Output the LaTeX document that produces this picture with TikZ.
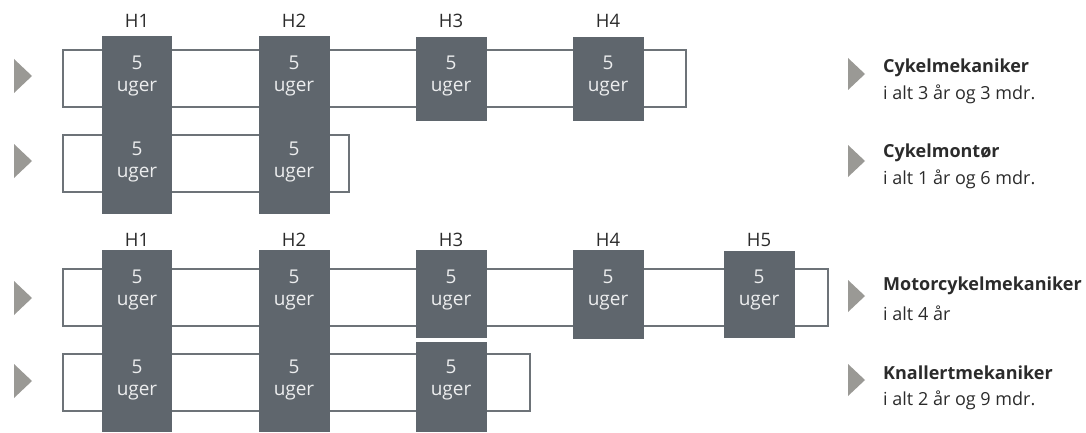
\documentclass[tikz,border=0pt]{standalone}
\usepackage{fontspec}
\setmainfont{Open Sans}
\definecolor{boxgray}{HTML}{5F666D}
\definecolor{linegray}{HTML}{6D7378}
\definecolor{trigray}{HTML}{9A9995}
\definecolor{txtdark}{HTML}{2B2B2B}
\definecolor{boxtxt}{HTML}{ECEDEE}
\begin{document}
\begin{tikzpicture}[x=1pt,y=-1pt,
  rowbox/.style={draw=linegray,line width=2pt},
  dark/.style={fill=boxgray},
  tri/.style={fill=trigray},
  wk/.style={text=boxtxt,font=\fontsize{19}{22}\selectfont,inner sep=0pt,align=center},
  hlab/.style={text=txtdark,font=\fontsize{18.5}{22}\selectfont,inner sep=0pt},
  ttl/.style={text=txtdark,font=\fontsize{18}{21}\selectfont\bfseries,inner sep=0pt,anchor=west},
  sub/.style={text=txtdark,font=\fontsize{18}{21}\selectfont,inner sep=0pt,anchor=west}]
\path[use as bounding box] (0,0) rectangle (1086,433);
% row outlines
\draw[rowbox] (63,50) rectangle (686,107);
\draw[rowbox] (63,135) rectangle (349,192);
\draw[rowbox] (63,269) rectangle (828,326);
\draw[rowbox] (63,354) rectangle (530,411);
% dark columns, top
\fill[dark] (102,36) rectangle (172,214);
\fill[dark] (259,36) rectangle (330,214);
\fill[dark] (416,37) rectangle (487,121);
\fill[dark] (573,37) rectangle (644,121);
% dark columns, bottom
\fill[dark] (102,250) rectangle (172,432);
\fill[dark] (259,250) rectangle (330,432);
\fill[dark] (416,250) rectangle (487,338);
\fill[dark] (416,342) rectangle (487,432);
\fill[dark] (573,250) rectangle (644,339);
\fill[dark] (724,251) rectangle (795,338);
% labels
\node[hlab] (h1a) at (137,21) {H1};
\node[hlab] (h2a) at (294,21) {H2};
\node[hlab] (h3a) at (451,21) {H3};
\node[hlab] (h4a) at (608,21) {H4};
\node[hlab] (h1b) at (137,240) {H1};
\node[hlab] (h2b) at (294,240) {H2};
\node[hlab] (h3b) at (451,240) {H3};
\node[hlab] (h4b) at (608,240) {H4};
\node[hlab] (h5b) at (759,240) {H5};
% week texts
\foreach \n/\x/\y in {a1/137/63, a2/294/63, a3/451/63, a4/608/63,
  b1/137/149, b2/294/149,
  c1/137/277, c2/294/277, c3/451/277, c4/608/277, c5/759/277,
  d1/137/367, d2/294/367, d3/451/367}{
  \node[wk] (n\n) at (\x,\y) {5};
  \node[wk] (u\n) at (\x,\y+26) {uger};
}
% left triangles
\foreach \y in {76,161,298,381}{
  \fill[tri] (14,\y-17) -- (32,\y) -- (14,\y+17) -- cycle;
}
% right triangles
\foreach \y in {74,161,296,380}{
  \fill[tri] (848,\y-16) -- (865,\y) -- (848,\y+16) -- cycle;
}
% right labels
\node[ttl] (t1) at (883,68) {Cykelmekaniker};
\node[sub] (s1) at (883,94) {i alt 3 år og 3 mdr.};
\node[ttl] (t2) at (883,153) {Cykelmontør};
\node[sub] (s2) at (883,179) {i alt 1 år og 6 mdr.};
\node[ttl] (t3) at (883,286) {Motorcykelmekaniker};
\node[sub] (s3) at (883,313) {i alt 4 år};
\node[ttl] (t4) at (883,373) {Knallertmekaniker};
\node[sub] (s4) at (883,400) {i alt 2 år og 9 mdr.};
\end{tikzpicture}
\end{document}
